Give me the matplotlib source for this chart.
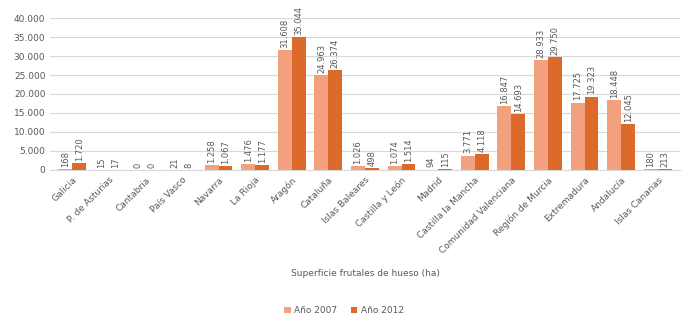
import numpy as np
import matplotlib.pyplot as plt
from matplotlib.ticker import FuncFormatter

regiones = ['Galicia', 'P. de Asturias', 'Cantabria', 'País Vasco', 'Navarra',
            'La Rioja', 'Aragón', 'Cataluña', 'Islas Baleares', 'Castilla y León',
            'Madrid', 'Castilla la Mancha', 'Comunidad Valenciana', 'Región de Murcia',
            'Extremadura', 'Andalucía', 'Islas Canarias']
a2007 = [168, 15, 0, 21, 1258, 1476, 31608, 24963, 1026, 1074, 94, 3771, 16847, 28933, 17725, 18448, 180]
a2012 = [1720, 17, 0, 8, 1067, 1177, 35044, 26374, 498, 1514, 115, 4118, 14693, 29750, 19323, 12045, 213]

c07 = '#F2A07D'
c12 = '#DC6A2A'
txt = '#595959'

def fmt(v):
    return f'{int(v):,}'.replace(',', '.')

fig = plt.figure(figsize=(6.88, 3.23), dpi=100)
ax = fig.add_axes([0.073, 0.474, 0.915, 0.47])

x = np.arange(len(regiones))
w = 0.38
b1 = ax.bar(x - w/2, a2007, w, color=c07, label='Año 2007', zorder=3)
b2 = ax.bar(x + w/2, a2012, w, color=c12, label='Año 2012', zorder=3)

for bars, vals in [(b1, a2007), (b2, a2012)]:
    for b, v in zip(bars, vals):
        ax.text(b.get_x() + b.get_width()/2, v + 600, fmt(v), rotation=90,
                ha='center', va='bottom', fontsize=6, color=txt)

ax.set_ylim(0, 40000)
ax.set_yticks(np.arange(0, 40001, 5000))
ax.yaxis.set_major_formatter(FuncFormatter(lambda v, p: fmt(v)))
ax.set_xlim(-0.6, len(regiones) - 0.4)
ax.set_xticks(x)
ax.set_xticklabels(regiones, rotation=45, ha='right', rotation_mode='anchor')
ax.tick_params(axis='both', length=0, labelsize=6.5, labelcolor=txt)
ax.tick_params(axis='x', pad=4)
ax.grid(axis='y', color='#D9D9D9', linewidth=0.8, zorder=0)
for s in ['top', 'right', 'left']:
    ax.spines[s].set_visible(False)
ax.spines['bottom'].set_color('#D9D9D9')

ax.set_xlabel('Superficie frutales de hueso (ha)', fontsize=6.5, color=txt, labelpad=10)
fig.legend(handles=[b1, b2], loc='lower center', bbox_to_anchor=(0.5, 0.0), ncol=2,
           frameon=False, fontsize=6.5, labelcolor=txt, handlelength=0.7,
           handleheight=0.7, columnspacing=1.5, handletextpad=0.4)

fig.savefig('out.png', dpi=100)
